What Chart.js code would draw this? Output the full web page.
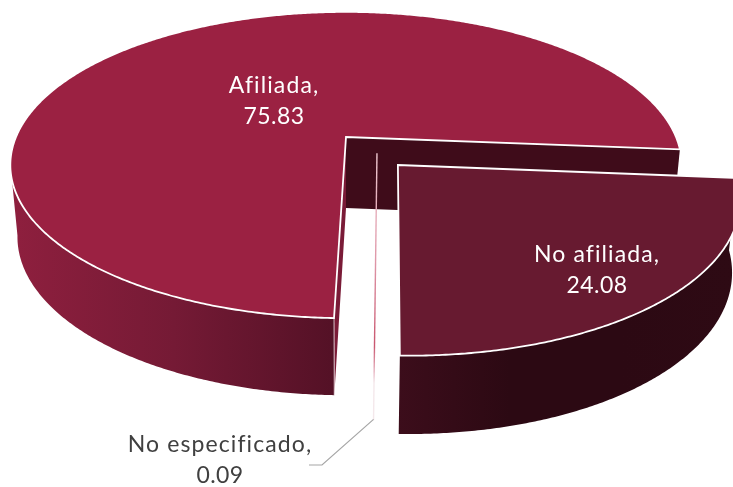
<!DOCTYPE html>
<html>
<head>
<meta charset="utf-8">
<style>html,body{margin:0;padding:0;background:#fff}canvas{display:block}</style>
<script src="https://cdn.jsdelivr.net/npm/chart.js@4"></script>
</head>
<body>
<canvas id="c" width="733" height="487"></canvas>
<script>
const categories = ["Afiliada", "No afiliada", "No especificado"];
const shares = [75.83, 24.08, 0.09];

const topFill = ["#9B2142", "#671A30", "#C0405F"];
const labelColor = ["#FFFFFF", "#FFFFFF", "#404040"];
const labelPos = [[274, 86], [597, 255], [220, 445]];
const explode = [[0, 0, 1], [0.152, 0.183, 0.98], [0.092, 0.107, 1]];
const topPlane = {cx: 346, cy: 137, a: 330, b: 148, k: 0.183};
const basePlane = {cx: 346, cy: 208, a: 323, b: 153, k: 0.183};

function project(pl, u, v) {
  const w = 1 - pl.k * v;
  return [pl.cx + pl.a * u / w, pl.cy + pl.b * v / w];
}
function rimPoint(pl, i, ang) {
  const e = explode[i];
  return project(pl, e[0] + e[2] * Math.cos(ang), e[1] + e[2] * Math.sin(ang));
}
function apex(pl, i) { return project(pl, explode[i][0], explode[i][1]); }
function rimPts(pl, i, a0, a1) {
  const out = [], n = Math.max(2, Math.ceil(Math.abs(a1 - a0) / 0.008));
  for (let s = 0; s <= n; s++) out.push(rimPoint(pl, i, a0 + (a1 - a0) * s / n));
  return out;
}
function poly(ctx, pts) {
  ctx.beginPath();
  pts.forEach((p, j) => j ? ctx.lineTo(p[0], p[1]) : ctx.moveTo(p[0], p[1]));
  ctx.closePath();
}
function hGrad(ctx, x0, x1, stops) {
  const g = ctx.createLinearGradient(x0, 0, x1, 0);
  stops.forEach((s, j) => g.addColorStop(j / (stops.length - 1), s));
  return g;
}

const pie3d = {
  id: 'pie3d',
  beforeDatasetsDraw(chart) {
    const ctx = chart.ctx, arcs = chart.getDatasetMeta(0).data;
    const [A, N, E] = arcs;
    ctx.save();
    ctx.lineJoin = 'miter';

    // Afiliada: outer side, visible front part, up to the silhouette
    const aEnd = 170 * Math.PI / 180;
    let side = rimPts(topPlane, 0, A.startAngle, aEnd).concat(rimPts(basePlane, 0, aEnd, A.startAngle));
    poly(ctx, side);
    ctx.fillStyle = hGrad(ctx, 14, 333, ["#8E1F3E", "#751A35", "#541126"]);
    ctx.fill();
    // Afiliada: cut walls
    const t0 = rimPoint(topPlane, 0, A.startAngle), b0 = rimPoint(basePlane, 0, A.startAngle);
    poly(ctx, [apex(topPlane, 0), t0, b0, apex(basePlane, 0)]);
    ctx.fillStyle = "#7A1B37";
    ctx.fill();
    const t1 = rimPoint(topPlane, 0, A.endAngle), b1 = rimPoint(basePlane, 0, A.endAngle);
    poly(ctx, [apex(topPlane, 0), t1, b1, apex(basePlane, 0)]);
    ctx.fillStyle = "#3F0C1A";
    ctx.fill();
    // Afiliada: top
    poly(ctx, [apex(topPlane, 0)].concat(rimPts(topPlane, 0, A.startAngle, A.endAngle)));
    ctx.fillStyle = topFill[0];
    ctx.fill();
    ctx.strokeStyle = "#FFFFFF";
    ctx.lineWidth = 1.8;
    ctx.stroke();
    // front edge of the Afiliada side
    ctx.beginPath(); ctx.moveTo(t0[0], t0[1]); ctx.lineTo(b0[0], b0[1]);
    ctx.lineWidth = 1; ctx.strokeStyle = "rgba(255,255,255,.7)"; ctx.stroke();

    // No especificado: a hair-thin slice whose colour fades out along its length
    const ea = apex(topPlane, 2), eb = rimPoint(basePlane, 2, E.startAngle);
    const eg = ctx.createLinearGradient(0, ea[1], 0, eb[1]);
    eg.addColorStop(0, "#EFC9D1");
    eg.addColorStop(0.4, "#DE97A8");
    eg.addColorStop(0.72, "#C9566F");
    eg.addColorStop(0.82, "#E8B8C4");
    eg.addColorStop(0.86, "#F4E8EB");
    eg.addColorStop(1, "#F4E8EB");
    ctx.beginPath(); ctx.moveTo(ea[0], ea[1]); ctx.lineTo(eb[0], eb[1]);
    ctx.lineWidth = 1.4; ctx.strokeStyle = eg; ctx.stroke();

    // No afiliada
    side = rimPts(topPlane, 1, N.startAngle, N.endAngle).concat(rimPts(basePlane, 1, N.endAngle, N.startAngle));
    poly(ctx, side);
    ctx.fillStyle = hGrad(ctx, 398, 733, ["#3C0D1B", "#2C0913", "#2C0913", "#2E0A14"]);
    ctx.fill();
    poly(ctx, [apex(topPlane, 1)].concat(rimPts(topPlane, 1, N.startAngle, N.endAngle)));
    ctx.fillStyle = topFill[1];
    ctx.fill();
    ctx.lineWidth = 1.8; ctx.strokeStyle = "#FFFFFF"; ctx.stroke();
    ctx.restore();
    return false;
  },
  afterDraw(chart) {
    const ctx = chart.ctx;
    ctx.save();
    // leader line
    const el = rimPoint(basePlane, 2, chart.getDatasetMeta(0).data[2].startAngle);
    ctx.beginPath();
    ctx.moveTo(el[0], el[1] - 1);
    ctx.lineTo(322, 465);
    ctx.lineTo(309, 465);
    ctx.strokeStyle = "#A6A6A6"; ctx.lineWidth = 1.2; ctx.stroke();
    // labels
    ctx.font = '400 23px Lato, sans-serif';
    ctx.textAlign = 'center';
    ctx.textBaseline = 'middle';
    categories.forEach((name, i) => {
      ctx.fillStyle = labelColor[i];
      ctx.letterSpacing = '1.1px';
      ctx.fillText(name + ",", labelPos[i][0], labelPos[i][1]);
      ctx.letterSpacing = '0.4px';
      ctx.fillText(String(shares[i]), labelPos[i][0], labelPos[i][1] + 31);
    });
    ctx.restore();
  }
};

new Chart(document.getElementById('c'), {
  type: 'pie',
  data: {labels: categories, datasets: [{data: shares, backgroundColor: topFill, borderColor: '#fff'}]},
  options: {
    responsive: false,
    animation: false,
    rotation: 181.7,
    plugins: {legend: {display: false}, tooltip: {enabled: false}}
  },
  plugins: [pie3d]
});
</script>
</body>
</html>
